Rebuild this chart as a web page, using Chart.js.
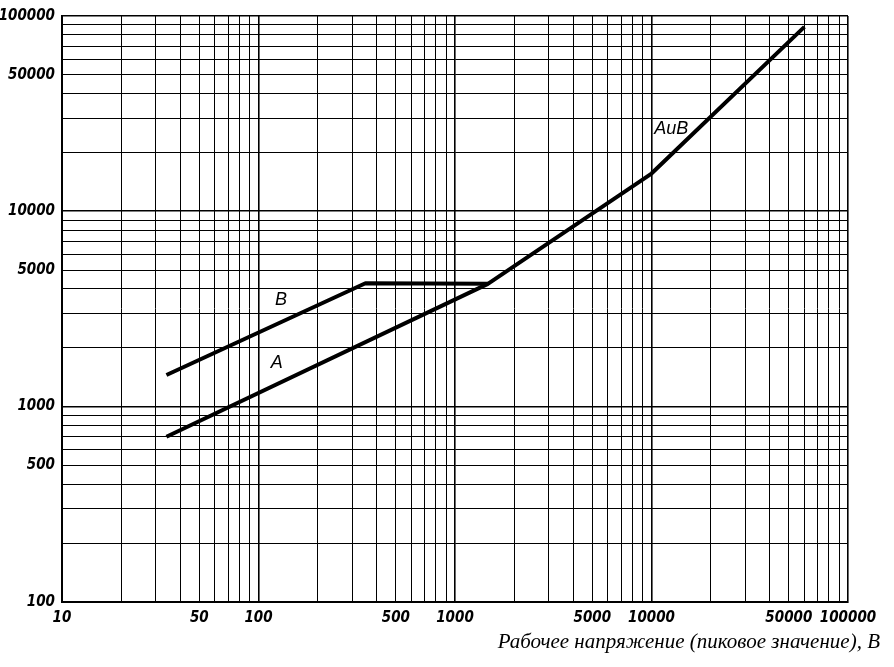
<!DOCTYPE html>
<html>
<head>
<meta charset="utf-8">
<script src="https://cdn.jsdelivr.net/npm/chart.js@4/dist/chart.umd.min.js"></script>
<style>
  html, body { margin: 0; padding: 0; background: #fff; }
  #wrap { width: 894px; height: 667px; }
</style>
</head>
<body>
<div id="wrap"><canvas id="chart"></canvas></div>
<script>
// кривая А (затем общая для А и В)
const curveAX = [34, 1470, 10000, 60000];
const curveAY = [700, 4250, 15600, 88000];
// кривая В до слияния с А
const curveBX = [34, 350, 1470];
const curveBY = [1450, 4280, 4250];

const xTickLabels = [10, 50, 100, 500, 1000, 5000, 10000, 50000, 100000];
const yTickLabels = [100, 500, 1000, 5000, 10000, 50000, 100000];
const gridMantissas = [1, 2, 3, 4, 5, 6, 7, 8, 9];

const curveLabels = ['В', 'А', 'АиВ'];
const curveLabelX = [130, 124, 12600];
const curveLabelY = [3520, 1670, 26400];

const axisTitle = 'Рабочее напряжение (пиковое значение), В';

const toPoints = (xs, ys) => xs.map((x, i) => ({ x, y: ys[i] }));

function logGrid(min, max) {
  const out = [];
  for (let d = min; d < max; d *= 10) {
    gridMantissas.forEach(m => out.push({ value: m * d }));
  }
  out.push({ value: max });
  return out;
}

const isDecade = v => Math.abs(Math.log10(v) - Math.round(Math.log10(v))) < 1e-9;

const tickFont = {
  family: "'Liberation Sans Narrow', 'DejaVu Sans Condensed', sans-serif",
  style: 'italic',
  weight: 'bold'
};

const curveLabelPlugin = {
  id: 'curveLabels',
  afterDatasetsDraw(chart) {
    const { ctx, scales } = chart;
    ctx.save();
    ctx.fillStyle = '#000';
    ctx.font = "italic 18px 'Liberation Sans', Arial, sans-serif";
    ctx.textAlign = 'center';
    ctx.textBaseline = 'middle';
    curveLabels.forEach((t, i) => {
      ctx.fillText(t, scales.x.getPixelForValue(curveLabelX[i]), scales.y.getPixelForValue(curveLabelY[i]));
    });
    ctx.restore();
  }
};

const ctx = document.getElementById('chart').getContext('2d');
new Chart(ctx, {
  type: 'line',
  data: {
    datasets: [
      {
        label: 'А',
        data: toPoints(curveAX, curveAY),
        borderColor: '#000',
        borderWidth: 4,
        pointRadius: 0,
        tension: 0,
        borderJoinStyle: 'round'
      },
      {
        label: 'В',
        data: toPoints(curveBX, curveBY),
        borderColor: '#000',
        borderWidth: 4,
        pointRadius: 0,
        tension: 0,
        borderJoinStyle: 'round'
      }
    ]
  },
  options: {
    responsive: true,
    maintainAspectRatio: false,
    animation: false,
    layout: { padding: { left: 0, right: 14, top: 16, bottom: 0 } },
    plugins: {
      legend: { display: false },
      tooltip: { enabled: false },
      title: {
        display: true,
        text: axisTitle,
        position: 'bottom',
        align: 'end',
        color: '#000',
        font: { family: "'Liberation Serif', 'Times New Roman', serif", style: 'italic', size: 21, weight: 'normal' },
        padding: { top: 0, bottom: 12 }
      }
    },
    scales: {
      x: {
        type: 'logarithmic',
        min: 10,
        max: 100000,
        afterBuildTicks: s => { s.ticks = logGrid(10, 100000); },
        afterFit: s => { s.height = 28; },
        grid: {
          color: '#000',
          lineWidth: c => (c.tick && isDecade(c.tick.value) ? 1.6 : 1),
          drawTicks: false
        },
        border: { color: '#000', width: 2 },
        ticks: {
          autoSkip: false,
          maxRotation: 0,
          padding: 7,
          color: '#000',
          font: { ...tickFont, size: 15 },
          callback: v => (xTickLabels.includes(v) ? String(v) : '')
        }
      },
      y: {
        type: 'logarithmic',
        min: 100,
        max: 100000,
        afterBuildTicks: s => { s.ticks = logGrid(100, 100000); },
        afterFit: s => { s.width = 62; },
        grid: {
          color: '#000',
          lineWidth: c => (c.tick && isDecade(c.tick.value) ? 1.6 : 1),
          drawTicks: false
        },
        border: { color: '#000', width: 2 },
        ticks: {
          autoSkip: false,
          padding: 7,
          color: '#000',
          font: { ...tickFont, size: 15 },
          callback: v => (yTickLabels.includes(v) ? String(v) : '')
        }
      },
      y2: {
        type: 'linear',
        position: 'right',
        grid: { display: false },
        border: { display: false },
        ticks: { display: false },
        afterFit: s => { s.width = 32; }
      }
    }
  },
  plugins: [curveLabelPlugin]
});
</script>
</body>
</html>
